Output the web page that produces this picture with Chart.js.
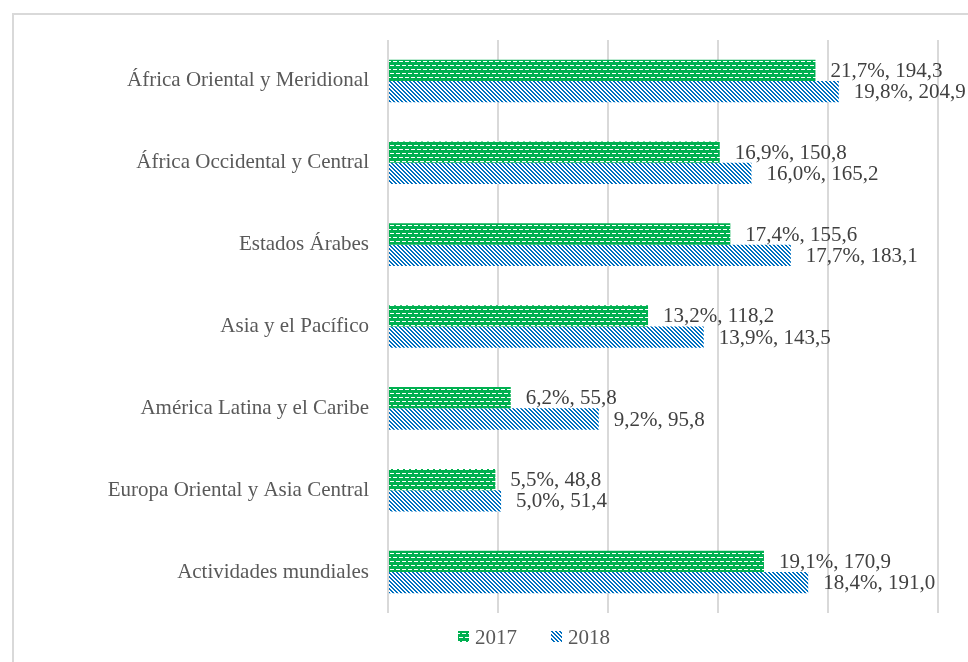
<!DOCTYPE html>
<html lang="es">
<head>
<meta charset="utf-8">
<title>Gastos por región 2017-2018</title>
<script src="https://cdn.jsdelivr.net/npm/chart.js@4.4.1/dist/chart.umd.min.js"></script>
<style>
    html, body { margin: 0; padding: 0; background: #ffffff; overflow: hidden; }
    body { width: 968px; height: 662px; position: relative; }
    #marco {
        position: absolute; left: 12px; top: 13px;
        width: 1100px; height: 800px;
        border: 2px solid #d9d9d9; box-sizing: border-box;
    }
    #grafico { position: absolute; left: 0; top: 0; }
</style>
</head>
<body>
<div id="marco"></div>
<canvas id="grafico" width="968" height="662"></canvas>
<script>
// Datos
const regiones = [
    "África Oriental y Meridional",
    "África Occidental y Central",
    "Estados Árabes",
    "Asia y el Pacífico",
    "América Latina y el Caribe",
    "Europa Oriental y Asia Central",
    "Actividades mundiales",
];
const series = ["2017", "2018"];
const montos2017 = [194.3, 150.8, 155.6, 118.2, 55.8, 48.8, 170.9];
const montos2018 = [204.9, 165.2, 183.1, 143.5, 95.8, 51.4, 191.0];
const pct2017 = [21.7, 16.9, 17.4, 13.2, 6.2, 5.5, 19.1];
const pct2018 = [19.8, 16.0, 17.7, 13.9, 9.2, 5.0, 18.4];

const VERDE = "#00b050";
const AZUL = "#0070c0";
const FUENTE = "'Liberation Serif', 'Times New Roman', serif";

// Tramas tipo Excel: guiones horizontales (verde) y diagonales anchas (azul)
function tramaGuiones() {
    const c = document.createElement("canvas");
    c.width = 6; c.height = 8;
    const g = c.getContext("2d");
    g.fillStyle = VERDE;
    g.fillRect(0, 0, 6, 8);
    g.fillStyle = "#ffffff";
    g.fillRect(0, 1, 4, 1);
    g.fillRect(3, 5, 3, 1);
    g.fillRect(0, 5, 1, 1);
    return g.createPattern(c, "repeat");
}

function tramaDiagonal() {
    const c = document.createElement("canvas");
    c.width = 4; c.height = 4;
    const g = c.getContext("2d");
    g.fillStyle = "#ffffff";
    g.fillRect(0, 0, 4, 4);
    g.fillStyle = AZUL;
    for (let y = 0; y < 4; y++) {
        for (let x = 0; x < 4; x++) {
            const d = ((x - y) % 4 + 4) % 4;
            if (d === 0 || d === 1) g.fillRect(x, y, 1, 1);
        }
    }
    return g.createPattern(c, "repeat");
}

const formato = (n) => n.toFixed(1).replace(".", ",");

// Etiquetas "porcentaje, monto" al final de cada barra
const etiquetasBarras = {
    id: "etiquetasBarras",
    afterDatasetsDraw(chart) {
        const ctx = chart.ctx;
        const pcts = [pct2017, pct2018];
        ctx.save();
        ctx.font = "21px " + FUENTE;
        ctx.fillStyle = "#404040";
        ctx.textAlign = "left";
        ctx.textBaseline = "middle";
        chart.data.datasets.forEach((ds, i) => {
            const meta = chart.getDatasetMeta(i);
            meta.data.forEach((bar, j) => {
                const txt = `${formato(pcts[i][j])}%, ${formato(ds.data[j])}`;
                ctx.fillText(txt, bar.x + 15, bar.y + 1);
            });
        });
        ctx.restore();
    },
};

// Leyenda inferior dibujada a mano para ubicarla como en el original
const leyenda = {
    id: "leyenda",
    afterDraw(chart) {
        const ctx = chart.ctx;
        ctx.save();
        ctx.font = "21px " + FUENTE;
        ctx.textBaseline = "middle";
        const caja = 11, sep = 6, entre = 34;
        const anchos = chart.data.datasets.map((ds) => ctx.measureText(ds.label).width);
        const total = anchos.reduce((s, w) => s + caja + sep + w, 0) + entre;
        let x = 534 - total / 2;
        const y = 637;
        chart.data.datasets.forEach((ds, i) => {
            ctx.fillStyle = ds.backgroundColor;
            ctx.fillRect(x, y - 6, caja, caja);
            ctx.fillStyle = "#595959";
            ctx.fillText(ds.label, x + caja + sep, y + 1);
            x += caja + sep + anchos[i] + entre;
        });
        ctx.restore();
    },
};

Chart.defaults.font.family = FUENTE;

new Chart(document.getElementById("grafico").getContext("2d"), {
    type: "bar",
    data: {
        labels: regiones,
        datasets: [
            {
                label: series[0],
                data: montos2017,
                backgroundColor: tramaGuiones(),
                borderWidth: 0,
            },
            {
                label: series[1],
                data: montos2018,
                backgroundColor: tramaDiagonal(),
                borderWidth: 0,
            },
        ],
    },
    options: {
        indexAxis: "y",
        responsive: false,
        devicePixelRatio: 1,
        animation: false,
        layout: { padding: { left: 0, top: 40, right: 30, bottom: 49 } },
        datasets: { bar: { categoryPercentage: 0.52, barPercentage: 1 } },
        plugins: {
            legend: { display: false },
            tooltip: { enabled: false },
        },
        scales: {
            x: {
                min: 0,
                max: 250,
                ticks: { display: false, stepSize: 50 },
                grid: { color: "#d9d9d9", lineWidth: 2, drawTicks: false },
                border: { display: false },
                afterFit: (s) => { s.height = 0; },
            },
            y: {
                ticks: { color: "#595959", font: { size: 21 }, padding: 19 },
                grid: { display: false, drawTicks: false },
                border: { display: false },
                afterFit: (s) => { s.width = 388; },
            },
        },
    },
    plugins: [etiquetasBarras, leyenda],
});
</script>
</body>
</html>
